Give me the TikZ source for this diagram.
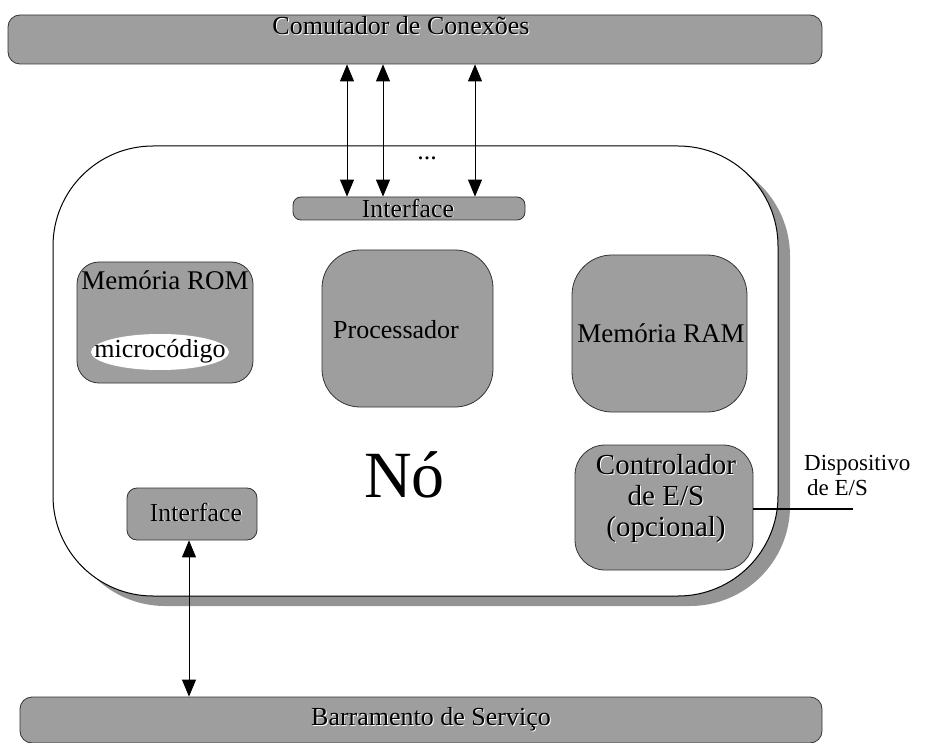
\documentclass[tikz,border=0pt]{standalone}
\usepackage{fontspec}
\setmainfont{Liberation Serif}
\usetikzlibrary{arrows.meta,calc,shapes.geometric}

\definecolor{panelgray}{gray}{0.62}
\definecolor{shadowgray}{gray}{0.58}

% raised text: a white copy offset down-right under the black text
\newcommand\raisedtext[4][]{%
  \node[lbl,#1,text=white] at ($(#2)+(0.9,0.9)$) {#4};
  \node[lbl,#1] (#3) at (#2) {#4};}

\begin{document}
\begin{tikzpicture}[x=1pt,y=-1pt,
  panel/.style={draw=black!80, line width=0.8pt, fill=panelgray, inner sep=0pt},
  lbl/.style={font=\fontsize{26}{30}\selectfont, inner sep=0pt},
  link/.style={line width=0.9pt,
    {Triangle[length=17pt,width=14pt]}-{Triangle[length=17pt,width=14pt]}},
  wire/.style={line width=1.3pt}]
\useasboundingbox (0,0) rectangle (934,743);

% node frame with its drop shadow
\fill[shadowgray, rounded corners=100pt] (65,156) rectangle (790,606);
\draw[fill=white, line width=1pt, rounded corners=100pt] (53,146) rectangle (778,596);

% switch and service bus
\node[panel, rounded corners=12pt, minimum width=814pt, minimum height=49pt] (sw) at (415,39.5) {};
\raisedtext{401,26}{swl}{Comutador de Conexões}
\node[panel, rounded corners=12pt, minimum width=802pt, minimum height=46pt] (bus) at (421,720) {};
\raisedtext{431,719}{busl}{Barramento de Serviço}

% inner blocks
\node[panel, rounded corners=8pt, minimum width=232pt, minimum height=23pt] (ifa) at (409,208.5) {};
\raisedtext{408,208}{ifal}{Interface}

\node[panel, rounded corners=22pt, minimum width=176pt, minimum height=121pt] (rom) at (165,322.5) {};
\node[lbl, font=\fontsize{27}{30}\selectfont] (roml) at (165,280) {Memória ROM};
\node[ellipse, fill=white, inner sep=0pt, minimum width=138pt, minimum height=36pt] (mc) at (160,352) {};
\node[lbl, font=\fontsize{26}{30}\selectfont] (mcl) at (160,351) {microcódigo};

\node[panel, rounded corners=38pt, minimum width=171pt, minimum height=157pt] (cpu) at (407.5,328.5) {};
\node[lbl] (cpul) at (396,330) {Processador};

\node[panel, rounded corners=40pt, minimum width=175pt, minimum height=157pt] (ram) at (659.5,333.5) {};
\node[lbl, font=\fontsize{27}{30}\selectfont] (raml) at (661,333) {Memória RAM};

\node[panel, rounded corners=30pt, minimum width=178pt, minimum height=125pt] (ctl) at (664,507.5) {};
\raisedtext[font=\fontsize{29}{31}\selectfont, align=center]{666,499}{ctll}{Controlador\\de E/S\\(opcional)}

\node[panel, rounded corners=10pt, minimum width=130pt, minimum height=52pt] (ifb) at (192,514) {};
\raisedtext{196,512}{ifbl}{Interface}

% node title and ellipsis
\node[inner sep=0pt, anchor=base west, font=\fontsize{66}{70}\selectfont] (no) at (364,497) {Nó};
\node[lbl] (dots) at (427,158) {...};

% connections to the switch
\coordinate (xa) at (347,0);
\coordinate (xb) at (383,0);
\coordinate (xc) at (475,0);
\draw[link] (sw.south -| xa) -- (ifa.north -| xa);
\draw[link] (sw.south -| xb) -- (ifa.north -| xb);
\draw[link] (sw.south -| xc) -- (ifa.north -| xc);

% connection to the service bus
\draw[link] (ifb.south -| 189,0) -- (bus.north -| 189,0);

% I/O device line
\coordinate (dev) at (853,509);
\draw[wire] (ctl.east |- dev) -- (dev);
\node[lbl, anchor=base west, font=\fontsize{23}{26}\selectfont] (devl1) at (804,470) {Dispositivo};
\node[lbl, anchor=base west, font=\fontsize{23}{26}\selectfont] (devl2) at (807,495) {de E/S};
\end{tikzpicture}
\end{document}
